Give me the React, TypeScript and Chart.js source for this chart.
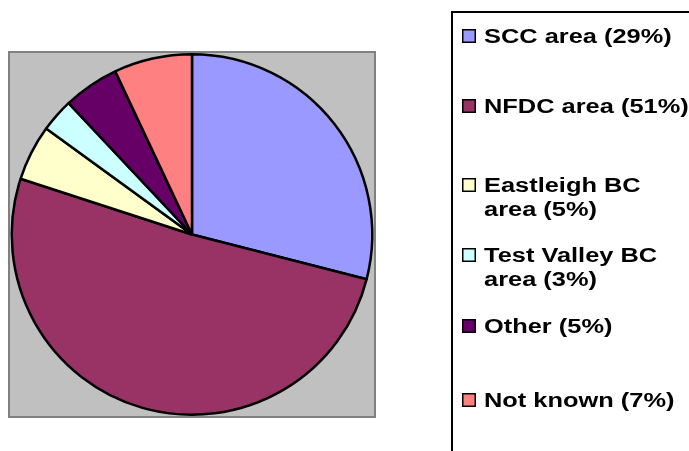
import { useEffect, useRef } from "react";
import { Chart, registerables } from "chart.js";

Chart.register(...registerables);

// Share of responses by area (percent)
const categories = [
  "SCC area",
  "NFDC area",
  "Eastleigh BC area",
  "Test Valley BC area",
  "Other",
  "Not known",
];
const shares = [29, 51, 5, 3, 5, 7];
const sliceColors = ["#9999FF", "#993366", "#FFFFCC", "#CCFFFF", "#660066", "#FF8080"];

// Baselines of the first text line of each legend entry
const legendBaselines = [43, 113, 192, 262, 333, 407];

const LEGEND_FONT = "bold 20px 'Liberation Sans', Arial, sans-serif";
const TEXT_STRETCH = 1.27;
const WRAP_WIDTH = 210;
const LINE_GAP = 24;

// Grey plot area behind the pie
const plotFrame = {
  id: "plotFrame",
  beforeDatasetsDraw(chart: any) {
    const { ctx, chartArea: a } = chart;
    ctx.save();
    ctx.fillStyle = "#C0C0C0";
    ctx.fillRect(a.left, a.top, a.right - a.left, a.bottom - a.top);
    ctx.strokeStyle = "#808080";
    ctx.lineWidth = 2;
    ctx.strokeRect(a.left - 1, a.top - 1, a.right - a.left + 2, a.bottom - a.top + 2);
    ctx.restore();
  },
};

function wrapText(ctx: CanvasRenderingContext2D, text: string): string[] {
  const words = text.split(" ");
  const lines: string[] = [];
  let current = "";
  for (const w of words) {
    const trial = current ? current + " " + w : w;
    if (current && ctx.measureText(trial).width * TEXT_STRETCH > WRAP_WIDTH) {
      lines.push(current);
      current = w;
    } else {
      current = trial;
    }
  }
  if (current) lines.push(current);
  return lines;
}

// Boxed legend on the right
const boxedLegend = {
  id: "boxedLegend",
  afterDraw(chart: any) {
    const ctx: CanvasRenderingContext2D = chart.ctx;
    ctx.save();
    ctx.strokeStyle = "#000000";
    ctx.lineWidth = 2;
    ctx.strokeRect(452, 12, 300, 500);

    ctx.font = LEGEND_FONT;
    ctx.textBaseline = "alphabetic";
    ctx.textAlign = "left";
    categories.forEach((cat, i) => {
      const base = legendBaselines[i];
      const text = `${cat} (${shares[i]}%)`;
      const lines = wrapText(ctx, text);

      ctx.fillStyle = sliceColors[i];
      ctx.fillRect(462, base - 14, 14, 14);
      ctx.strokeStyle = "#000000";
      ctx.lineWidth = 1.5;
      ctx.strokeRect(462.75, base - 13.25, 12.5, 12.5);

      ctx.fillStyle = "#000000";
      lines.forEach((ln, j) => {
        ctx.save();
        ctx.translate(484, base + j * LINE_GAP);
        ctx.scale(TEXT_STRETCH, 1);
        ctx.fillText(ln, 0, 0);
        ctx.restore();
      });
    });
    ctx.restore();
  },
};

export default function App() {
  const canvasRef = useRef<HTMLCanvasElement | null>(null);

  useEffect(() => {
    if (!canvasRef.current) return;
    const chart = new Chart(canvasRef.current, {
      type: "pie",
      data: {
        labels: categories,
        datasets: [
          {
            data: shares,
            backgroundColor: sliceColors,
            borderColor: "#000000",
            borderWidth: 2.5,
          },
        ],
      },
      options: {
        responsive: false,
        animation: false,
        layout: { padding: { left: 10, top: 53, right: 315, bottom: 35 } },
        plugins: {
          legend: { display: false },
          tooltip: { enabled: false },
          title: { display: false },
        },
      },
      plugins: [plotFrame, boxedLegend],
    });
    return () => chart.destroy();
  }, []);

  return (
    <div style={{ position: "fixed", left: 0, top: 0, width: 689, height: 451, background: "#ffffff" }}>
      <canvas ref={canvasRef} width={689} height={451} style={{ display: "block" }} />
    </div>
  );
}
